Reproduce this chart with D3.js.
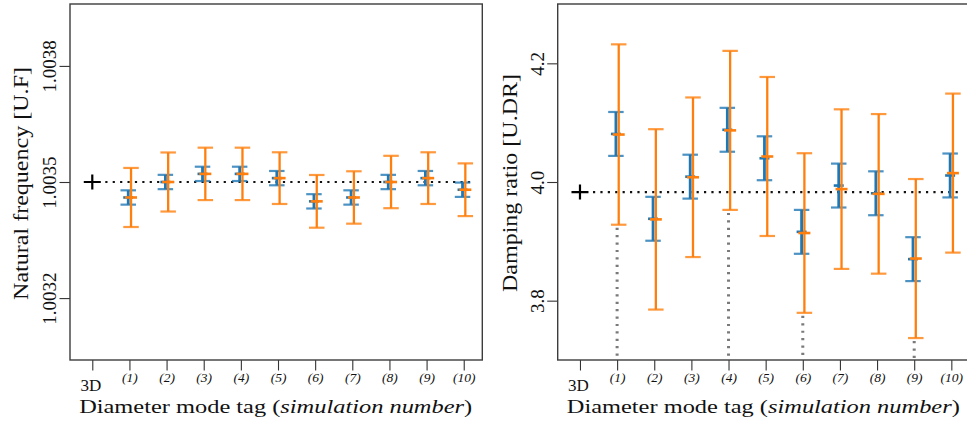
<!DOCTYPE html>
<html><head><meta charset="utf-8">
<script src="https://cdn.jsdelivr.net/npm/d3@7"></script>
<style>body{margin:0;background:#fff}svg{display:block}</style>
</head><body>
<svg id="c" width="967" height="430"></svg>
<script>
// ---------- data ----------
const categories = ["(1)","(2)","(3)","(4)","(5)","(6)","(7)","(8)","(9)","(10)"];
const refLabel = "3D";

const freqRef = 1.0035;
const freqBlueMean   = [1.003460,1.003500,1.003521,1.003521,1.003510,1.003450,1.003460,1.003500,1.003510,1.003480];
const freqBlueErr    = [0.0000185,0.0000185,0.0000185,0.0000185,0.0000185,0.0000185,0.0000185,0.0000185,0.0000185,0.0000185];
const freqOrangeMean = [1.003460,1.003500,1.003521,1.003521,1.003510,1.003450,1.003460,1.003500,1.003510,1.003480];
const freqOrangeErr  = [0.0000763,0.0000763,0.0000677,0.0000677,0.0000668,0.0000681,0.0000677,0.0000677,0.0000668,0.0000681];
const freqTicks = [1.0032,1.0035,1.0038];
const freqTickLabels = ["1.0032","1.0035","1.0038"];
const freqDomain = [1.00304,1.00396];
const freqDotted = [];

const dampRef = 3.983;
const dampBlueMean   = [4.081,3.938,4.009,4.088,4.040,3.916,3.994,3.981,3.870,4.011];
const dampBlueErr    = [0.037,0.037,0.037,0.037,0.037,0.037,0.037,0.037,0.037,0.037];
const dampOrangeMean = [4.080,3.937,4.008,4.087,4.043,3.914,3.988,3.980,3.871,4.015];
const dampOrangeErr  = [0.152,0.152,0.1345,0.134,0.134,0.1345,0.1345,0.1345,0.134,0.134];
const dampTicks = [3.8,4.0,4.2];
const dampTickLabels = ["3.8","4.0","4.2"];
const dampDomain = [3.7,4.3];
const dampDotted = [1,4,6,9];

const xTitleMain = "Diameter mode tag (";
const xTitleItalic = "simulation number";
const xTitleEnd = ")";

// ---------- drawing ----------
const svg = d3.select("#c");
const FONT = "'Liberation Serif', 'DejaVu Serif', serif";
const BLUE = "#1f77b4", ORANGE = "#ff7f0e";

function panel(cfg){
  const {x0,x1,y0,y1} = cfg;
  const x = d3.scaleLinear().domain([-0.6,10.5]).range([x0,x1]);
  const y = d3.scaleLinear().domain(cfg.domain).range([y1,y0]);
  const g = svg.append("g");

  // y axis
  const ya = g.append("g").attr("transform",`translate(${x0},0)`)
    .call(d3.axisLeft(y).tickValues(cfg.ticks).tickSize(10.5).tickFormat((d,i)=>cfg.tickLabels[i]));
  ya.select(".domain").remove();
  ya.selectAll(".tick line").attr("stroke","#333").attr("stroke-width",1.1);
  ya.selectAll(".tick text").attr("transform","rotate(-90)").attr("x",0).attr("y",-14).attr("dy",0)
    .style("text-anchor","middle").style("font-family",FONT).style("font-size","19px").attr("fill","#111");

  // x axis
  const xa = g.append("g").attr("transform",`translate(0,${y1})`)
    .call(d3.axisBottom(x).tickValues(d3.range(0,categories.length+1)).tickSize(10.5)
      .tickFormat(i=> i===0 ? refLabel : categories[i-1]));
  xa.select(".domain").remove();
  xa.selectAll(".tick line").attr("stroke","#333").attr("stroke-width",1.1);
  xa.selectAll(".tick text").attr("dy",0).attr("fill","#111").style("font-family",FONT)
    .each(function(d){
      const t = d3.select(this);
      if(d===0){ t.attr("y",31).attr("x",-2).style("font-size","17px").style("font-style","normal"); }
      else { t.attr("y",21.5).style("font-size","13.5px").style("font-style","italic"); }
    });

  // gray dotted extensions
  cfg.dotted.forEach(k=>{
    const i = k-1;
    g.append("line").attr("x1",x(k)).attr("x2",x(k))
      .attr("y1",y(cfg.oMean[i]-cfg.oErr[i])+3).attr("y2",y1)
      .attr("stroke","#7a7a7a").attr("stroke-width",3).attr("stroke-dasharray","2.2,5.2");
  });

  // reference dotted line
  g.append("line").attr("x1",x(0)+13).attr("x2",x(10)+8)
    .attr("y1",y(cfg.ref)).attr("y2",y(cfg.ref))
    .attr("stroke","#111").attr("stroke-width",2.2).attr("stroke-dasharray","2.2,5.2");

  // reference plus marker
  const px = x(0), py = y(cfg.ref);
  g.append("path").attr("d",`M${px-8.5},${py}H${px+8.5}M${px},${py-7.5}V${py+7.5}`)
    .attr("stroke","#000").attr("stroke-width",2.2).attr("fill","none");

  function series(mean, err, off, color, vw, capW, markW){
    const sg = g.append("g");
    mean.forEach((m,i)=>{
      const cx = x(i+1)+off;
      const yt = y(m+err[i]), yb = y(m-err[i]);
      sg.append("line").attr("x1",cx).attr("x2",cx).attr("y1",yt).attr("y2",yb)
        .attr("stroke",color).attr("stroke-width",vw);
      [yt,yb].forEach(yy=>{
        sg.append("line").attr("x1",cx-capW/2).attr("x2",cx+capW/2).attr("y1",yy).attr("y2",yy)
          .attr("stroke",color).attr("stroke-width",2.2).attr("stroke-opacity",0.8);
      });
      sg.append("line").attr("x1",cx-markW/2).attr("x2",cx+markW/2).attr("y1",y(m)).attr("y2",y(m))
        .attr("stroke",color).attr("stroke-width",2.6);
    });
  }
  series(cfg.bMean,cfg.bErr,-1.2,BLUE,2.8,15.5,10);
  series(cfg.oMean,cfg.oErr,1.6,ORANGE,2.3,15.5,12);

  // frame
  g.append("rect").attr("x",x0).attr("y",y0).attr("width",x1-x0).attr("height",y1-y0)
    .attr("fill","none").attr("stroke","#3c3c3c").attr("stroke-width",1.4);

  // titles
  const xt = g.append("text").attr("x",(x0+x1)/2-0.5).attr("y",413).attr("text-anchor","middle")
    .attr("textLength",393).attr("lengthAdjust","spacingAndGlyphs")
    .style("font-family",FONT).style("font-size","19.5px").attr("fill","#111");
  xt.append("tspan").text(xTitleMain);
  xt.append("tspan").style("font-style","italic").text(xTitleItalic);
  xt.append("tspan").text(xTitleEnd);

  g.append("text").attr("transform",`translate(${cfg.ylabX},${cfg.ylabY}) rotate(-90)`)
    .attr("text-anchor","middle").attr("textLength",cfg.ylabLen).attr("lengthAdjust","spacingAndGlyphs")
    .style("font-family",FONT).style("font-size","20px").attr("fill","#111")
    .text(cfg.ylabel);
}

panel({x0:70,x1:482.3,y0:4,y1:360,domain:freqDomain,ticks:freqTicks,tickLabels:freqTickLabels,
  ref:freqRef,bMean:freqBlueMean,bErr:freqBlueErr,oMean:freqOrangeMean,oErr:freqOrangeErr,
  dotted:freqDotted,ylabel:"Natural frequency [U.F]",ylabX:28,ylabY:183.5,ylabLen:233});
panel({x0:557.7,x1:969.9,y0:4,y1:360,domain:dampDomain,ticks:dampTicks,tickLabels:dampTickLabels,
  ref:dampRef,bMean:dampBlueMean,bErr:dampBlueErr,oMean:dampOrangeMean,oErr:dampOrangeErr,
  dotted:dampDotted,ylabel:"Damping ratio [U.DR]",ylabX:516.5,ylabY:183,ylabLen:218});
</script>
</body></html>
